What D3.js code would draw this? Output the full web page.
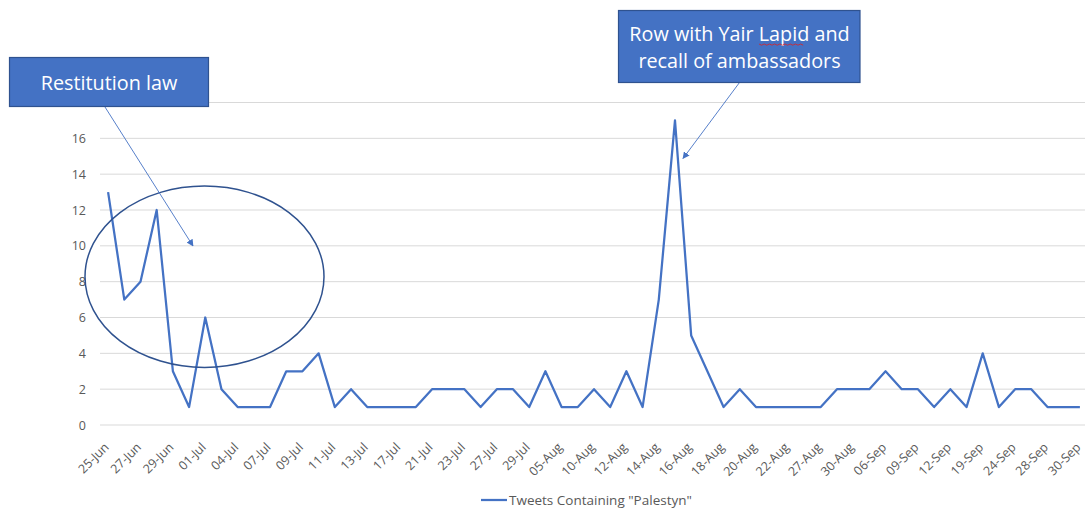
<!DOCTYPE html>
<html>
<head>
<meta charset="utf-8">
<script src="https://cdn.jsdelivr.net/npm/d3@7"></script>
<style>
  html, body { margin: 0; padding: 0; background: #fff; }
  svg { display: block; font-family: "Open Sans", "Noto Sans", sans-serif; }
</style>
</head>
<body>
<svg id="chart" width="1085" height="508"></svg>
<script>
// Daily tweet counts, 25 June – 30 September
const categories = [
  "25-Jun","26-Jun","27-Jun","28-Jun","29-Jun","30-Jun","01-Jul","02-Jul","04-Jul","05-Jul",
  "07-Jul","08-Jul","09-Jul","10-Jul","11-Jul","12-Jul","13-Jul","15-Jul","17-Jul","19-Jul",
  "21-Jul","22-Jul","23-Jul","25-Jul","27-Jul","28-Jul","29-Jul","02-Aug","05-Aug","08-Aug",
  "10-Aug","11-Aug","12-Aug","13-Aug","14-Aug","15-Aug","16-Aug","17-Aug","18-Aug","19-Aug",
  "20-Aug","21-Aug","22-Aug","25-Aug","27-Aug","28-Aug","30-Aug","02-Sep","06-Sep","07-Sep",
  "09-Sep","10-Sep","12-Sep","15-Sep","19-Sep","21-Sep","24-Sep","26-Sep","28-Sep","29-Sep",
  "30-Sep"
];
const tweets = [
  13, 7, 8, 12, 3, 1, 6, 2, 1, 1,
  1, 3, 3, 4, 1, 2, 1, 1, 1, 1,
  2, 2, 2, 1, 2, 2, 1, 3, 1, 1,
  2, 1, 3, 1, 7, 17, 5, 3, 1, 2,
  1, 1, 1, 1, 1, 2, 2, 2, 3, 2,
  2, 1, 2, 1, 4, 1, 2, 2, 1, 1,
  1
];
const yTicks = [0, 2, 4, 6, 8, 10, 12, 14, 16, 18];
const seriesName = 'Tweets Containing "Palestyn"';

const svg = d3.select("#chart");
const blue = "#4472C4";
const darkBlue = "#2F528F";
const grey = "#595959";

const x = d3.scaleBand().domain(categories).range([100, 1088]).padding(0);
const y = d3.scaleLinear().domain([0, 18]).range([425, 102.5]);
const cx = d => x(d) + x.bandwidth() / 2;

// horizontal gridlines
svg.append("g")
  .selectAll("line")
  .data(yTicks)
  .join("line")
  .attr("x1", 100).attr("x2", 1088)
  .attr("y1", d => y(d)).attr("y2", d => y(d))
  .attr("stroke", "#d9d9d9").attr("stroke-width", 1);

// y axis labels
const yAxis = svg.append("g")
  .attr("transform", "translate(90,0)")
  .call(d3.axisLeft(y).tickValues(yTicks).tickSize(0).tickPadding(4));
yAxis.select(".domain").remove();
yAxis.selectAll("text")
  .attr("fill", grey)
  .style("font-size", "12.5px")
  .style("font-family", "'Open Sans', sans-serif");

// x axis labels, every other date, slanted
const xAxis = svg.append("g")
  .attr("transform", "translate(0,425)")
  .call(d3.axisBottom(x)
    .tickValues(categories.filter((d, i) => i % 2 === 0))
    .tickSize(0).tickPadding(0));
xAxis.select(".domain").remove();
xAxis.selectAll("text")
  .attr("fill", grey)
  .style("font-size", "12.5px")
  .style("font-family", "'Open Sans', sans-serif")
  .attr("text-anchor", "end")
  .attr("dy", 0)
  .attr("y", 0)
  .attr("transform", "translate(1.5,23) rotate(-45)");

// series line
const line = d3.line()
  .x((d, i) => cx(categories[i]))
  .y(d => y(d));
svg.append("path")
  .datum(tweets)
  .attr("d", line)
  .attr("fill", "none")
  .attr("stroke", blue)
  .attr("stroke-width", 2.25)
  .attr("stroke-linejoin", "round");

// legend
svg.append("line")
  .attr("x1", 481).attr("x2", 507)
  .attr("y1", 500).attr("y2", 500)
  .attr("stroke", blue).attr("stroke-width", 2.25);
svg.append("text")
  .attr("x", 509).attr("y", 505)
  .attr("fill", grey)
  .style("font-size", "13.5px")
  .text(seriesName);

// arrow marker
const defs = svg.append("defs");
defs.append("marker")
  .attr("id", "arrow")
  .attr("viewBox", "0 0 10 10")
  .attr("refX", 9).attr("refY", 5)
  .attr("markerWidth", 7).attr("markerHeight", 7)
  .attr("markerUnits", "userSpaceOnUse")
  .attr("orient", "auto")
  .append("path")
  .attr("d", "M0,0 L10,5 L0,10 z")
  .attr("fill", blue);

// circled region around the early spike
svg.append("ellipse")
  .attr("cx", 204.5).attr("cy", 276.7)
  .attr("rx", 119.5).attr("ry", 90.7)
  .attr("fill", "none")
  .attr("stroke", darkBlue)
  .attr("stroke-width", 1.5);

// callout: Restitution law
svg.append("line")
  .attr("x1", 105).attr("y1", 107)
  .attr("x2", 193).attr("y2", 246)
  .attr("stroke", blue).attr("stroke-width", 0.9)
  .attr("marker-end", "url(#arrow)");
svg.append("rect")
  .attr("x", 9.5).attr("y", 57.5)
  .attr("width", 199).attr("height", 49)
  .attr("fill", blue).attr("stroke", darkBlue).attr("stroke-width", 1.2);
svg.append("text")
  .attr("x", 109).attr("y", 90)
  .attr("text-anchor", "middle")
  .attr("fill", "#fff")
  .style("font-size", "19.8px")
  .text("Restitution law");

// callout: peak in mid-August
svg.append("line")
  .attr("x1", 739.5).attr("y1", 82.5)
  .attr("x2", 683).attr("y2", 158.5)
  .attr("stroke", blue).attr("stroke-width", 0.9)
  .attr("marker-end", "url(#arrow)");
svg.append("rect")
  .attr("x", 618.5).attr("y", 10.5)
  .attr("width", 241.5).attr("height", 72)
  .attr("fill", blue).attr("stroke", darkBlue).attr("stroke-width", 1.2);
const t2 = svg.append("text")
  .attr("text-anchor", "middle")
  .attr("fill", "#fff")
  .style("font-size", "19.8px");
t2.append("tspan").attr("x", 739.5).attr("y", 41).text("Row with Yair Lapid and");
t2.append("tspan").attr("x", 739.5).attr("y", 68).text("recall of ambassadors");

// spell-check squiggle under "Lapid"
const squiggle = d3.range(0, 18).map(i => [759 + i * 2.6, 44 + (i % 2 ? 1.2 : 0)]);
svg.append("path")
  .attr("d", d3.line()(squiggle))
  .attr("fill", "none")
  .attr("stroke", "#e02020")
  .attr("stroke-width", 0.8);
</script>
</body>
</html>
